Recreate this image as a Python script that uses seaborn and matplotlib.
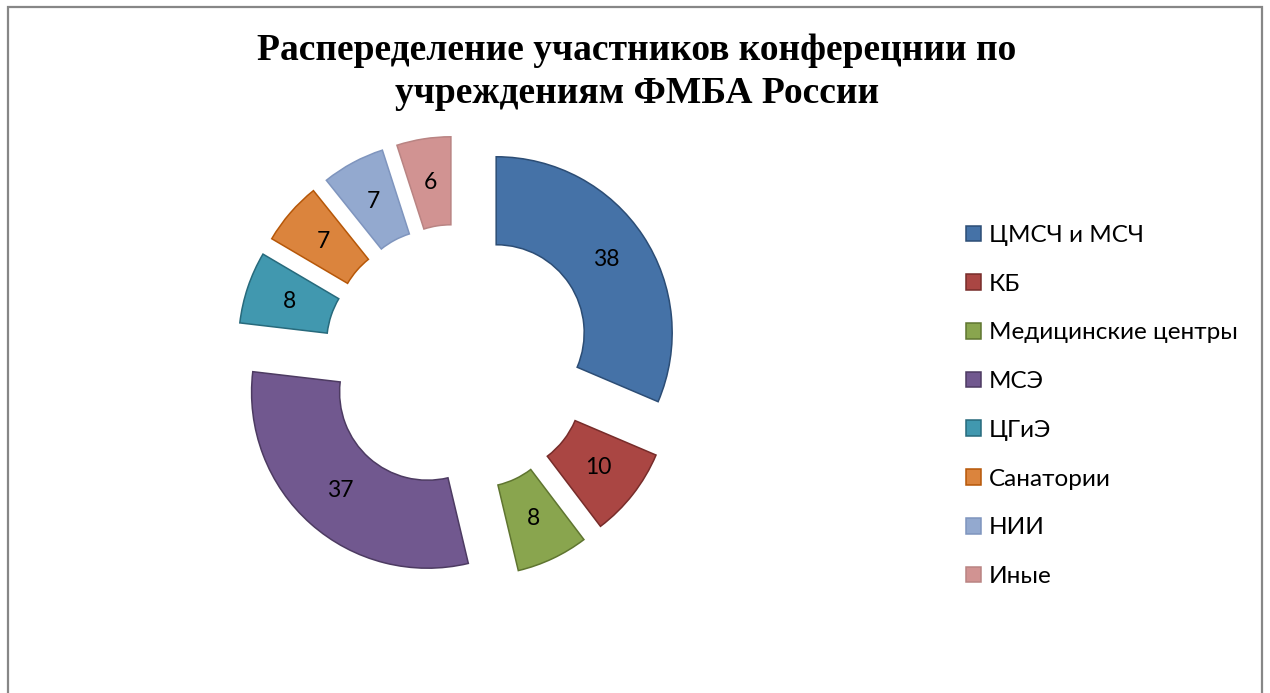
import matplotlib
matplotlib.use('Agg')
import matplotlib.pyplot as plt
import seaborn as sns
from matplotlib.patches import Patch, Rectangle

# chart data
categories = ['ЦМСЧ и МСЧ', 'КБ', 'Медицинские центры', 'МСЭ', 'ЦГиЭ',
              'Санатории', 'НИИ', 'Иные']
values = [38, 10, 8, 37, 8, 7, 7, 6]
title = 'Распеределение участников конферецнии по\nучреждениям ФМБА России'

fill_colors = ['#4572A7', '#AA4643', '#89A54E', '#71588F', '#4198AF',
               '#DB843D', '#93A9CF', '#D19392']
edge_colors = ['#2C4D75', '#772C2A', '#5F7530', '#4D3B62', '#276A7C',
               '#B65708', '#7F95BE', '#B98483']

sns.set_theme(style='white')
plt.rcParams['font.family'] = ['Lato', 'DejaVu Sans']
plt.rcParams['text.color'] = 'black'

W, H = 1270, 693
fig = plt.figure(figsize=(W / 100, H / 100), dpi=100)
fig.patch.set_facecolor('white')

# chart area border (bottom runs off the picture)
fig.patches.append(Rectangle((8 / W, -0.05), (1262 - 8) / W, (686 / H) + 0.05,
                             transform=fig.transFigure, fill=False,
                             edgecolor='#878787', linewidth=1.6))

# square axes, 1 data unit = 176 px, centre at (458, 358)
S = 528
cx, cy = 458, H - 358
ax = fig.add_axes([(cx - S / 2) / W, (cy - S / 2) / H, S / W, S / H])

wedges, texts, autotexts = ax.pie(
    values, startangle=90, counterclock=False,
    explode=[0.26] * len(values), colors=fill_colors,
    autopct=lambda p: f'{p * sum(values) / 100:.0f}', pctdistance=0.75,
    wedgeprops=dict(width=0.5, linewidth=1.1),
    textprops=dict(fontsize=16.5, color='black'))
for w, ec in zip(wedges, edge_colors):
    w.set_edgecolor(ec)
ax.set_xlim(-1.5, 1.5)
ax.set_ylim(-1.5, 1.5)
ax.set_aspect('equal')
ax.axis('off')

fig.text(637 / W, 1 - 72 / H, title, ha='center', va='center',
         family=['Liberation Serif', 'DejaVu Serif'], fontweight='bold',
         fontsize=27, linespacing=1.3, color='black')

handles = [Patch(facecolor=fc, edgecolor=ec, linewidth=1.1)
           for fc, ec in zip(fill_colors, edge_colors)]
fig.legend(handles, categories, loc='center left',
           bbox_to_anchor=(966 / W, 1 - 406 / H), frameon=False,
           fontsize=17.5, handlelength=0.62, handleheight=0.62,
           handletextpad=0.32, labelspacing=1.14, borderpad=0,
           borderaxespad=0, labelcolor='black')

fig.savefig('out.png', dpi=100, facecolor='white')
